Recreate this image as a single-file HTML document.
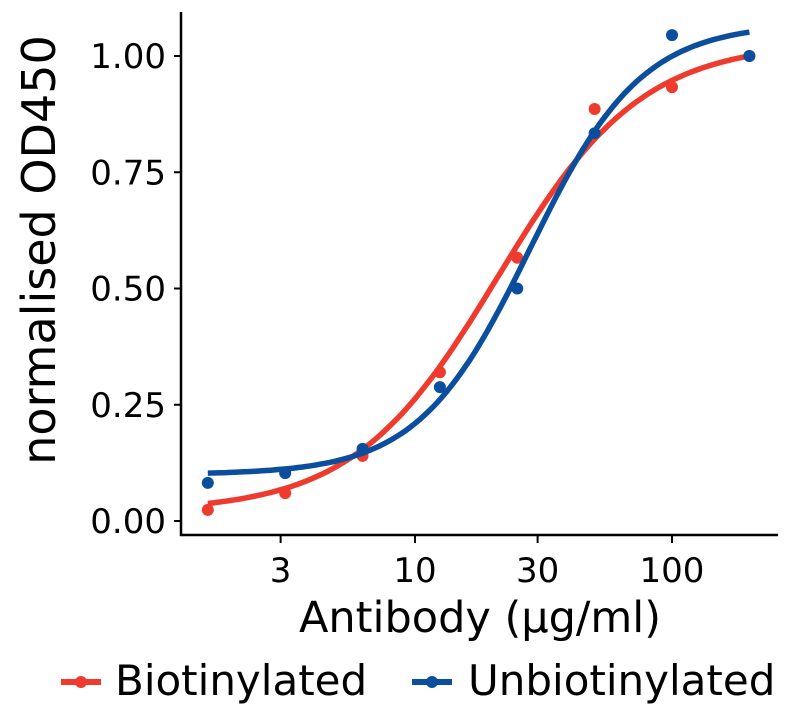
<!DOCTYPE html>
<html><head><meta charset="utf-8"><style>
body{margin:0;background:#fff}
svg text{font-family:"DejaVu Sans","Liberation Sans",sans-serif;fill:#000}
</style></head><body>
<svg id="chart" width="795" height="713" viewBox="0 0 795 713">
<g id="plot"></g>
</svg>
<script>
const concentrations=[1.5625,3.125,6.25,12.5,25,50,100,200];
const biotinylated=[0.024,0.06,0.14,0.32,0.566,0.886,0.933,1.0];
const unbiotinylated=[0.082,0.103,0.155,0.288,0.5,0.834,1.045,1.0];
const biotFit=[0.02,1.03,21,1.55];   // bottom, top, ec50, hill
const unbiotFit=[0.1,1.07,28,2.0];
const xTicks=[3,10,30,100];
const xTickLabels=["3","10","30","100"];
const yTicks=[0,0.25,0.5,0.75,1.0];
const yTickLabels=["0.00","0.25","0.50","0.75","1.00"];

const NS="http://www.w3.org/2000/svg";
const g=document.getElementById('plot');
const X=v=>672+257*(Math.log10(v)-2);
const Y=v=>521-465*v;
function mk(t,a,p){const e=document.createElementNS(NS,t);for(const k in a)e.setAttribute(k,a[k]);(p||g).appendChild(e);return e;}

const ax=mk('line',{x1:181,y1:12,x2:181,y2:536,stroke:'#000','stroke-width':2.5});


const axx=mk('line',{x1:180,y1:535,x2:778,y2:535,stroke:'#000','stroke-width':2.5});



yTicks.forEach((v,i)=>{
 const t=mk('line',{x1:174,x2:181,y1:Y(v),y2:Y(v),stroke:'#000','stroke-width':2});
 
 
 const l=mk('text',{x:166,y:Y(v)+12,'text-anchor':'end','font-size':34});
 l.textContent=yTickLabels[i];
 
 
});
xTicks.forEach((v,i)=>{
 const t=mk('line',{x1:X(v),x2:X(v),y1:535,y2:543,stroke:'#000','stroke-width':2});
 
 
 const l=mk('text',{x:X(v),y:582,'text-anchor':'middle','font-size':34});
 l.textContent=xTickLabels[i];
 
 
});
const xt=mk('text',{x:480,y:632,'text-anchor':'middle','font-size':43});
xt.textContent='Antibody (µg/ml)';


const yt=mk('text',{x:55,y:250,'text-anchor':'middle','font-size':46,transform:'rotate(-90 55 250)'});
yt.textContent='normalised OD450';



function fourPL(p,x){return p[0]+(p[1]-p[0])/(1+Math.pow(p[2]/x,p[3]));}
function series(vals,fit,color,name){
 let d='';
 const lo=Math.log10(concentrations[0]),hi=Math.log10(concentrations[concentrations.length-1]);
 for(let i=0;i<=120;i++){const lx=lo+(hi-lo)*i/120,x=Math.pow(10,lx);d+=(i?'L':'M')+X(x).toFixed(1)+','+Y(fourPL(fit,x)).toFixed(1);}
 const p=mk('path',{d:d,fill:'none',stroke:color,'stroke-width':5.5});
 
 
 vals.forEach((v,i)=>{
  const c=mk('circle',{cx:X(concentrations[i]),cy:Y(v),r:6,fill:color});
  
  
 });
}
series(biotinylated,biotFit,'#EE3B2E','biotinylated');
series(unbiotinylated,unbiotFit,'#0C4E9E','unbiotinylated');

function legend(x,tx,color,label,name){
 const lg=mk('g',{});
 
 
 mk('line',{x1:x,x2:x+40,y1:682,y2:682,stroke:color,'stroke-width':6},lg);
 mk('circle',{cx:x+20,cy:682,r:6,fill:color},lg);
 const t=mk('text',{x:tx,y:695,'font-size':42},lg);
 t.textContent=label;
}
legend(61,115,'#EE3B2E','Biotinylated','biotinylated');
legend(412,468,'#0C4E9E','Unbiotinylated','unbiotinylated');
</script>
</body></html>
